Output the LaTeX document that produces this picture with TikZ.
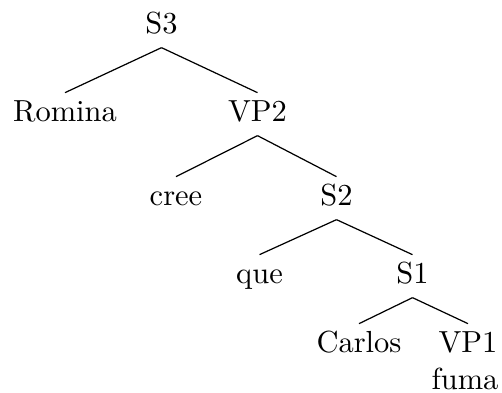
\documentclass[tikz,border=0pt]{standalone}
\begin{document}
\begin{tikzpicture}[x=0.328pt, y=-0.328pt,
  word/.style={anchor=base, text height=6.5pt, text depth=2pt, inner sep=2.6pt}]
  \useasboundingbox (0,0) rectangle (502,392);
  % Top clause
  \node[word] (S3) at (161.5,33) {S3};
  \node[word] (Romina) at (65,121) {Romina};
  \node[word] (VP2) at (257.5,121) {VP2};
  \draw (S3.south) -- (Romina.north);
  \draw (S3.south) -- (VP2.north);
  % Verb phrase
  \node[word] (cree) at (176,205) {cree};
  \node[word] (S2) at (336.5,205) {S2};
  \draw (VP2.south) -- (cree.north);
  \draw (VP2.south) -- (S2.north);
  % Embedded clause
  \node[word] (que) at (259.5,283) {que};
  \node[word] (S1) at (412.5,283) {S1};
  \draw (S2.south) -- (que.north);
  \draw (S2.south) -- (S1.north);
  % Lowest clause
  \node[word] (Carlos) at (359,352) {Carlos};
  \node[word] (VP1) at (468,352) {VP1};
  \node[word] (fuma) at (465,389) {fuma};
  \draw (S1.south) -- (Carlos.north);
  \draw (S1.south) -- (VP1.north);
\end{tikzpicture}
\end{document}
